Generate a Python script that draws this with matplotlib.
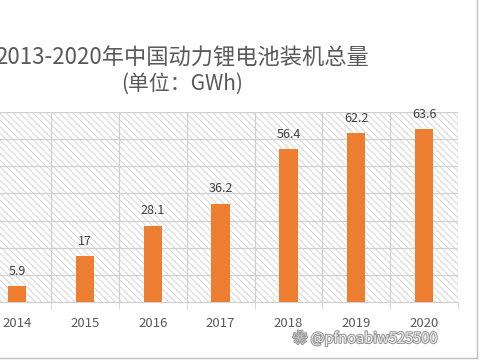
import matplotlib
matplotlib.use("Agg")
import matplotlib.pyplot as plt
import matplotlib.patheffects as pe
import numpy as np

plt.rcParams['font.family'] = ['Noto Sans CJK SC', 'DejaVu Sans']
plt.rcParams['hatch.linewidth'] = 0.6

years = ['2014', '2015', '2016', '2017', '2018', '2019', '2020']
capacity = [5.9, 17, 28.1, 36.2, 56.4, 62.2, 63.6]

bar_color = '#ED7D31'
grid_color = '#d0d0d0'
text_color = '#595959'


def main():
    fig = plt.figure(figsize=(4.8, 3.6), dpi=100)
    # plot area runs past the left edge (the 2013 bar is cropped away)
    ax = fig.add_axes([-0.176, 0.161, 1.13, 0.528])

    x = np.arange(len(years))
    ax.bar(x, capacity, width=0.27, color=bar_color, zorder=3)
    for xi, v in zip(x, capacity):
        ax.annotate(f'{v:g}', (xi, v), xytext=(0, 6), textcoords='offset points',
                    ha='center', va='bottom', fontsize=9, color='#404040')

    ax.set_xlim(-1.5, 6.5)
    ax.set_ylim(0, 70)
    ax.set_yticks(np.arange(0, 71, 10))
    ax.set_xticks(x)
    ax.set_xticklabels(years)
    ax.set_xticks(np.arange(-1.5, 6.6, 1), minor=True)
    ax.tick_params(axis='x', which='major', length=0, labelsize=9.5,
                   labelcolor=text_color, pad=11)
    ax.tick_params(axis='x', which='minor', length=5, color=grid_color)
    ax.tick_params(axis='y', length=0, labelleft=False)
    ax.grid(axis='y', color=grid_color, linewidth=0.9, zorder=1)
    ax.grid(axis='x', which='minor', color=grid_color, linewidth=0.9, zorder=1)

    ax.patch.set_facecolor('white')
    ax.patch.set_hatch('\\\\\\\\\\')
    ax.patch.set_edgecolor('#cfcfcf')
    for s in ['top', 'left', 'right']:
        ax.spines[s].set_visible(False)
    ax.spines['bottom'].set_color(grid_color)

    fig.text(0.38, 0.838, '2013-2020年中国动力锂电池装机总量', ha='center', va='center',
             fontsize=16, color=text_color)
    fig.text(0.38, 0.768, '(单位：GWh)', ha='center', va='center',
             fontsize=15, color=text_color)

    wm = fig.text(0.61, 0.06, '❀ @pfnoabiw525500', ha='left', va='center',
                  fontsize=10.5, color='#ededed')
    wm.set_path_effects([pe.withStroke(linewidth=1.5, foreground='#9a9a9a')])

    # outer chart border
    fig.add_artist(plt.Line2D([0, 0.994], [0.006, 0.006], color='#bfbfbf', lw=1))
    fig.add_artist(plt.Line2D([0.994, 0.994], [0.006, 1], color='#bfbfbf', lw=1))

    fig.savefig('out.png', dpi=100)


if __name__ == "__main__":
    main()
